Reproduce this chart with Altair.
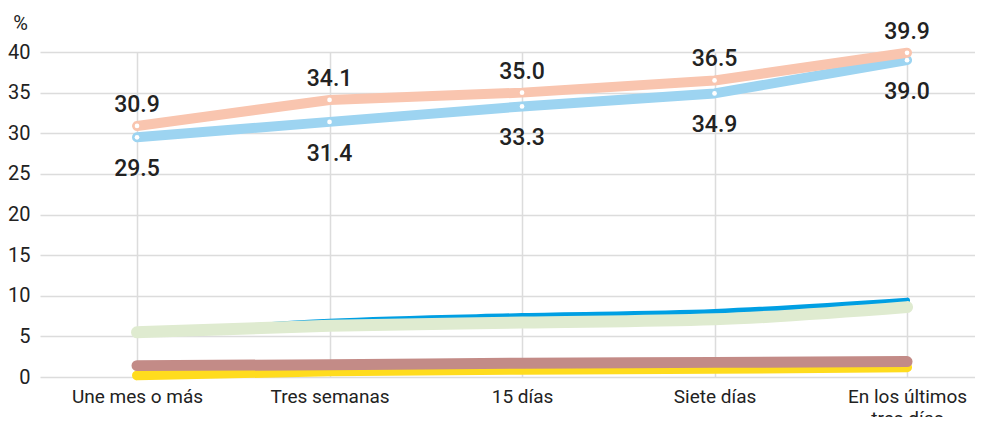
import altair as alt
import pandas as pd
import json

categories = ["Une mes o más", "Tres semanas", "15 días", "Siete días", "En los últimos tres días"]
salmon = [30.9, 34.1, 35.0, 36.5, 39.9]
lightblue = [29.5, 31.4, 33.3, 34.9, 39.0]
blue = [5.2, 6.8, 7.5, 8.0, 9.4]
green = [5.5, 6.3, 6.7, 7.1, 8.6]
brown = [1.4, 1.5, 1.7, 1.8, 1.9]
yellow = [0.2, 0.7, 0.9, 1.0, 1.2]
y_ticks = [0, 5, 10, 15, 20, 25, 30, 35, 40]

series = [
    ("yellow", yellow, "#FFDC1E", 10, "monotone"),
    ("brown", brown, "#C38B87", 11, "monotone"),
    ("blue", blue, "#009FE3", 6, "monotone"),
    ("green", green, "#DFEBD0", 12, "monotone"),
    ("lightblue", lightblue, "#9DD4F1", 10, "linear"),
    ("salmon", salmon, "#F9C5AF", 10, "linear"),
]

FONT = "Roboto"

label_lines = list(categories)
label_lines[-1] = ["En los últimos", "tres días"]
label_expr = json.dumps(label_lines, ensure_ascii=False) + "[datum.value]"

x_scale = alt.Scale(domain=[-0.504, 4.353], nice=False, zero=False)
x_axis = alt.Axis(
    title=None,
    values=list(range(len(categories))),
    domain=False,
    ticks=False,
    grid=True,
    gridColor="#dcdcdc",
    gridWidth=1.5,
    labelFont=FONT,
    labelFontSize=19,
    labelColor="#222222",
    labelPadding=10,
    labelAngle=0,
    labelLineHeight=22,
    labelFlush=False,
    labelOverlap=False,
    labelExpr=label_expr,
)
y_scale = alt.Scale(domain=[0, 40], nice=False, zero=True)
y_axis = alt.Axis(
    title="%",
    titleAngle=0,
    titleX=-20,
    titleY=-29,
    titleAlign="center",
    titleBaseline="middle",
    titleFont=FONT,
    titleFontSize=20,
    titleFontWeight="normal",
    titleColor="#222222",
    values=y_ticks,
    domain=False,
    ticks=False,
    grid=True,
    gridColor="#dcdcdc",
    gridWidth=1.5,
    labelFont=FONT,
    labelFontSize=20,
    labelColor="#222222",
    labelPadding=10,
)


def xe():
    return alt.X("i:Q", scale=x_scale, axis=x_axis)


def ye():
    return alt.Y("v:Q", scale=y_scale, axis=y_axis)


idx = list(range(len(categories)))

layers = []
for name, vals, color, sw, interp in series:
    df = pd.DataFrame({"i": idx, "cat": categories, "v": vals})
    layers.append(
        alt.Chart(df).mark_line(
            color=color, strokeWidth=sw, strokeCap="round", strokeJoin="round", interpolate=interp
        ).encode(x=xe(), y=ye())
    )

for name, vals, dy in [("lightblue", lightblue, 32), ("salmon", salmon, -21)]:
    df = pd.DataFrame({"i": idx, "cat": categories, "v": vals, "lab": [f"{v:.1f}" for v in vals]})
    layers.append(
        alt.Chart(df).mark_circle(color="white", opacity=1, size=22).encode(x=xe(), y=ye())
    )
    layers.append(
        alt.Chart(df).mark_text(
            font=FONT, fontSize=23, fontWeight=500, color="#222222", dy=dy, baseline="middle"
        ).encode(x=xe(), y=ye(), text="lab:N")
    )

chart = alt.layer(*layers).properties(
    width=935,
    height=325,
    background="white",
    autosize=alt.AutoSizeParams(type="none"),
    padding={"left": 32, "top": 44, "right": 0, "bottom": 40},
).configure_view(stroke=None)

chart.save("out.html", embed_options={"renderer": "svg", "actions": False})
